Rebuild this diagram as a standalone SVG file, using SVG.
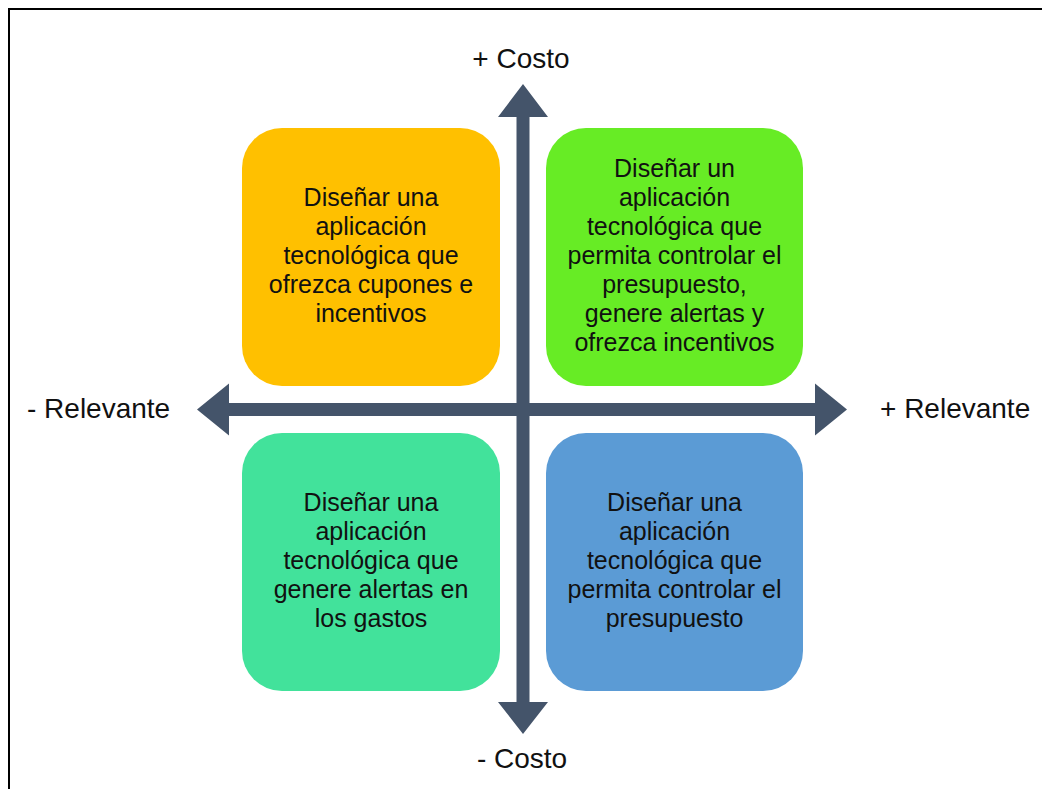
<svg xmlns="http://www.w3.org/2000/svg" width="1042" height="789" viewBox="0 0 1042 789">
<style>
.box{stroke:none}
.t{font-family:"Liberation Sans",Arial,sans-serif;font-size:25px;fill:#111;text-anchor:middle}
.lbl{font-family:"Liberation Sans",Arial,sans-serif;font-size:28px;fill:#111}
.arr{fill:#44546A}
</style>
<rect width="1042" height="789" fill="#fff"/>
<path d="M9 789 V9 H1042" fill="none" stroke="#000" stroke-width="2"/>
<g id="connectors">
<polygon class="arr" points="523,84 548,117 529.5,117 529.5,702 548,702 523,734 498,702 516.5,702 516.5,117 498,117"/>
<polygon class="arr" points="197,409.5 229,383.5 229,403 815,403 815,383.5 847,409.5 815,435.5 815,416 229,416 229,435.5"/>
</g>
<g id="n1">
<rect class="box" x="242" y="128" width="258" height="258" rx="40" fill="#FFC000"/>
<text class="t"><tspan x="371" y="206">Diseñar una</tspan><tspan x="371" y="235">aplicación</tspan><tspan x="371" y="264">tecnológica que</tspan><tspan x="371" y="293">ofrezca cupones e</tspan><tspan x="371" y="322">incentivos</tspan></text>
</g>
<g id="n2">
<rect class="box" x="546" y="128" width="257" height="258" rx="40" fill="#67EC25"/>
<text class="t"><tspan x="674.5" y="177">Diseñar un</tspan><tspan x="674.5" y="206">aplicación</tspan><tspan x="674.5" y="235">tecnológica que</tspan><tspan x="674.5" y="264">permita controlar el</tspan><tspan x="674.5" y="293">presupuesto,</tspan><tspan x="674.5" y="322">genere alertas y</tspan><tspan x="674.5" y="351">ofrezca incentivos</tspan></text>
</g>
<g id="n3">
<rect class="box" x="242" y="433" width="258" height="258" rx="40" fill="#42E29B"/>
<text class="t"><tspan x="371" y="511">Diseñar una</tspan><tspan x="371" y="540">aplicación</tspan><tspan x="371" y="569">tecnológica que</tspan><tspan x="371" y="598">genere alertas en</tspan><tspan x="371" y="627">los gastos</tspan></text>
</g>
<g id="n4">
<rect class="box" x="546" y="433" width="257" height="258" rx="40" fill="#5B9BD5"/>
<text class="t"><tspan x="674.5" y="511">Diseñar una</tspan><tspan x="674.5" y="540">aplicación</tspan><tspan x="674.5" y="569">tecnológica que</tspan><tspan x="674.5" y="598">permita controlar el</tspan><tspan x="674.5" y="627">presupuesto</tspan></text>
</g>
<g id="labels">
<text class="lbl" x="521" y="68" text-anchor="middle">+ Costo</text>
<text class="lbl" x="522" y="768" text-anchor="middle">- Costo</text>
<text class="lbl" x="27" y="418">- Relevante</text>
<text class="lbl" x="880" y="418">+ Relevante</text>
</g>
</svg>
